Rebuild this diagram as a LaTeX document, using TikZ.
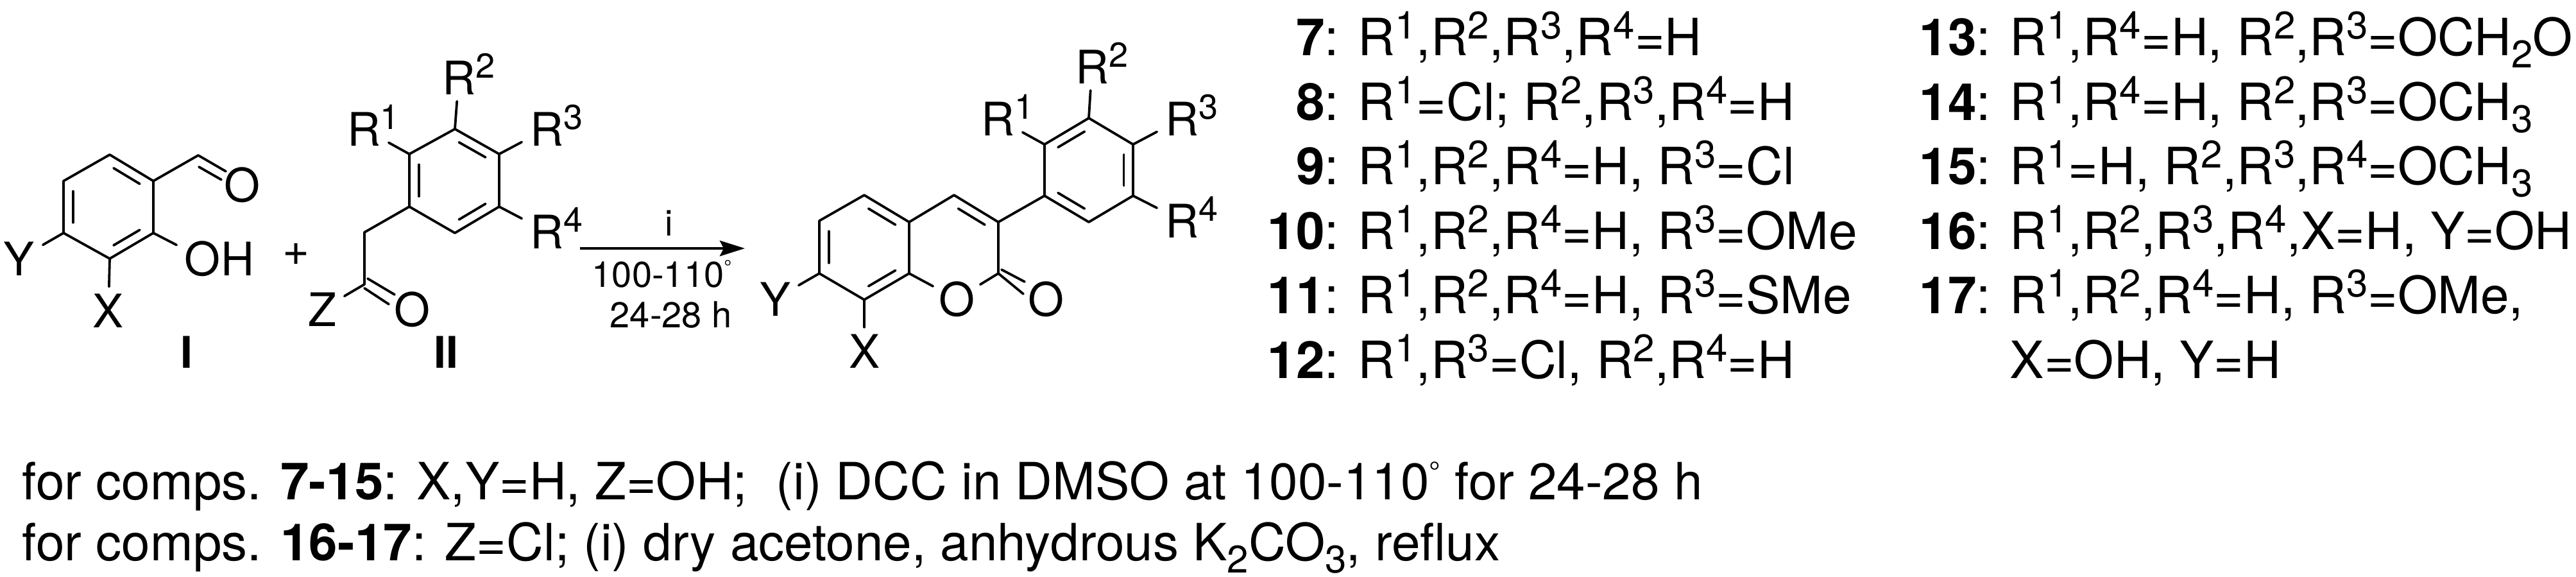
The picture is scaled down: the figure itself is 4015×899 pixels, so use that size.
\documentclass[tikz,border=0pt]{standalone}
\usepackage{fontspec}
\setmainfont{TeX Gyre Heros}
\usetikzlibrary{calc,arrows.meta}
\newcommand{\RR}[1]{R\raisebox{6.5pt}{\fontsize{15}{15}\selectfont #1}}
\newcommand{\RA}[1]{R\rlap{\smash{\raisebox{6.4pt}{\fontsize{13.5}{13.5}\selectfont #1}}}}
\newcommand{\sbs}[1]{\raisebox{-4.8pt}{\fontsize{15}{15}\selectfont #1}}
\newcommand{\Deg}[2]{\raisebox{#1}{\fontsize{#2}{#2}\selectfont °}}
\newcommand{\inbond}[3]{\draw[bond] ($($(#1)!.12!(#2)$)!.21!(#3)$) -- ($($(#1)!.88!(#2)$)!.21!(#3)$);}
\tikzset{
  bond/.style={line width=0.95pt,line cap=round,line join=round},
  atom/.style={font=\fontsize{18}{18}\selectfont,inner xsep=3pt,inner ysep=2.5pt,anchor=base},
  cond/.style={font=\fontsize{14}{14}\selectfont,inner sep=0pt,anchor=base west},
  code/.style={font=\fontsize{17}{17}\selectfont\bfseries,inner sep=0pt,anchor=base},
  row/.style={font=\fontsize{20}{20}\selectfont,inner sep=0pt,anchor=base west},
}
\begin{document}
\begin{tikzpicture}[x=0.25pt,y=-0.25pt]
\useasboundingbox (0,0) rectangle (4015,899);
% --- Reactant I
\coordinate (ia) at (171,241);\coordinate (ib) at (239,282);\coordinate (ic) at (239,363);
\coordinate (id) at (171,403);\coordinate (ie) at (99,363);\coordinate (if) at (99,282);
\coordinate (ict) at (169,322);
\coordinate (icho) at (309,242);
\coordinate (io1) at (352,267);\coordinate (io2) at (310,260);\coordinate (io3) at (345,280);
\node[atom] (iO) at (378,314) {O};
\node[atom] (iOH) at (316,429) {O\rlap{H}};
\node[atom] (iY) at (30,429) {Y};
\node[atom] (iX) at (169,510) {X};
\node[code] (cI) at (291,573) {I};
\draw[bond] (ia)--(ib)--(ic)--(id)--(ie)--(if)--cycle;
\inbond{ia}{ib}{ict}\inbond{ic}{id}{ict}\inbond{ie}{if}{ict}
\draw[bond] (ib)--(icho)--(io1);
\draw[bond] (io2)--(io3);
\draw[bond] (ic)--(iOH);\draw[bond] (ie)--(iY);\draw[bond] (id)--(iX);
\node[atom,inner sep=0pt] (plus) at (462,413) {+};
% --- Reactant II
\coordinate (ja) at (709,201);\coordinate (jb) at (778,240);\coordinate (jc) at (778,322);
\coordinate (jd) at (709,363);\coordinate (je) at (638,322);\coordinate (jf) at (638,240);
\coordinate (jct) at (708,282);
\coordinate (jch) at (568,362);\coordinate (jco) at (568,443);
\coordinate (jo1) at (573,434);\coordinate (jo2) at (615,459);
\coordinate (jo3) at (568,449);\coordinate (jo4) at (606,474);
\node[atom] (jR2) at (715,147) {\RA{2}};
\node[atom] (jR1) at (567,227) {\RA{1}};
\node[atom] (jR3) at (852,227) {\RA{3}};
\node[atom] (jR4) at (852,387) {\RA{4}};
\node[atom] (jZ) at (502,508) {Z};
\node[atom] (jO) at (642,508) {O};
\node[code] (cII) at (695,573) {II};
\draw[bond] (ja)--(jb)--(jc)--(jd)--(je)--(jf)--cycle;
\inbond{ja}{jb}{jct}\inbond{jc}{jd}{jct}\inbond{je}{jf}{jct}
\draw[bond] (ja)--(jR2);\draw[bond] (jf)--(jR1);\draw[bond] (jb)--(jR3);\draw[bond] (jc)--(jR4);
\draw[bond] (je)--(jch)--(jco)--(jZ);
\draw[bond] (jo1)--(jo2);\draw[bond] (jo3)--(jo4);
% --- Arrow
\coordinate (astart) at (904,387);\coordinate (aend) at (1161,387);
\draw[line width=1.2pt,-{Stealth[length=9.75pt,width=6pt,inset=1.5pt]}] (astart)--(aend);
\node[cond,anchor=base] (ci) at (1043,367) {i};
\node[cond] (ct) at (922,447) {100-110\Deg{5.2pt}{7.5}};
\node[cond] (ch) at (950,510) {24-28 h};
% --- Product
\coordinate (pa) at (1347,304);\coordinate (pb) at (1417,346);\coordinate (pc) at (1417,426);
\coordinate (pd) at (1347,467);\coordinate (pe) at (1277,426);\coordinate (pf) at (1277,344);
\coordinate (pct) at (1347,385);
\coordinate (qa) at (1487,304);\coordinate (qb) at (1556,346);\coordinate (qc) at (1556,426);
\coordinate (qct) at (1487,385);
\coordinate (qo1) at (1561,420);\coordinate (qo2) at (1597,439);\coordinate (qo3) at (1595,458);
\coordinate (ra) at (1628,305);\coordinate (rb) at (1697,346);\coordinate (rc) at (1766,305);
\coordinate (rd) at (1766,225);\coordinate (re) at (1697,184);\coordinate (rf) at (1628,225);
\coordinate (rct) at (1697,265);
\node[atom] (pY) at (1208,492) {Y};
\node[atom] (pX) at (1347,573) {X};
\node[atom,inner xsep=2pt] (pO1) at (1491,492) {O};
\node[atom] (pO2) at (1630,492) {O};
\node[atom] (pR2) at (1702,130) {\RA{2}};
\node[atom] (pR1) at (1555,211) {\RA{1}};
\node[atom] (pR3) at (1842,211) {\RA{3}};
\node[atom] (pR4) at (1842,370) {\RA{4}};
\draw[bond] (pa)--(pb)--(pc)--(pd)--(pe)--(pf)--cycle;
\inbond{pa}{pb}{pct}\inbond{pc}{pd}{pct}\inbond{pe}{pf}{pct}
\draw[bond] (pb)--(qa)--(qb)--(qc)--(pO1)--(pc);
\inbond{qa}{qb}{qct}
\draw[bond] (qo1)--(qo2);\draw[bond] (qc)--(qo3);
\draw[bond] (pe)--(pY);\draw[bond] (pd)--(pX);
\draw[bond] (qb)--(ra);
\draw[bond] (ra)--(rb)--(rc)--(rd)--(re)--(rf)--cycle;
\inbond{ra}{rb}{rct}\inbond{rc}{rd}{rct}\inbond{re}{rf}{rct}
\draw[bond] (re)--(pR2);\draw[bond] (rf)--(pR1);\draw[bond] (rd)--(pR3);\draw[bond] (rc)--(pR4);
% --- Column 1
\node[row] (r7) at (2116,86) {\llap{\textbf{7}: }\RR{1},\RR{2},\RR{3},\RR{4}=H};
\node[row] (r8) at (2116,187) {\llap{\textbf{8}: }\RR{1}=Cl; \RR{2},\RR{3},\RR{4}=H};
\node[row] (r9) at (2116,287) {\llap{\textbf{9}: }\RR{1},\RR{2},\RR{4}=H, \RR{3}=Cl};
\node[row] (r10) at (2116,388) {\llap{\textbf{10}: }\RR{1},\RR{2},\RR{4}=H, \RR{3}=OMe};
\node[row] (r11) at (2116,488) {\llap{\textbf{11}: }\RR{1},\RR{2},\RR{4}=H, \RR{3}=SMe};
\node[row] (r12) at (2116,589) {\llap{\textbf{12}: }\RR{1},\RR{3}=Cl, \RR{2},\RR{4}=H};
% --- Column 2
\node[row] (r13) at (3132,86) {\llap{\textbf{13}: }\RR{1},\RR{4}=H, \RR{2},\RR{3}=OCH\sbs{2}O};
\node[row] (r14) at (3132,187) {\llap{\textbf{14}: }\RR{1},\RR{4}=H, \RR{2},\RR{3}=OCH\sbs{3}};
\node[row] (r15) at (3132,287) {\llap{\textbf{15}: }\RR{1}=H, \RR{2},\RR{3},\RR{4}=OCH\sbs{3}};
\node[row] (r16) at (3132,388) {\llap{\textbf{16}: }\RR{1},\RR{2},\RR{3},\RR{4},X=H, Y=OH};
\node[row] (r17) at (3132,488) {\llap{\textbf{17}: }\RR{1},\RR{2},\RR{4}=H, \RR{3}=OMe,};
\node[row] (r17b) at (3132,589) {X=OH, Y=H};
% --- Footnotes
\node[row] (f1) at (34,778) {for comps. \textbf{7-15}: X,Y=H, Z=OH;\ \ (i) DCC in DMSO at 100-110\Deg{6.8pt}{11} for 24-28 h};
\node[row] (f2) at (34,873) {for comps. \textbf{16-17}: Z=Cl; (i) dry acetone, anhydrous K\sbs{2}CO\sbs{3}, reflux};
\end{tikzpicture}
\end{document}
